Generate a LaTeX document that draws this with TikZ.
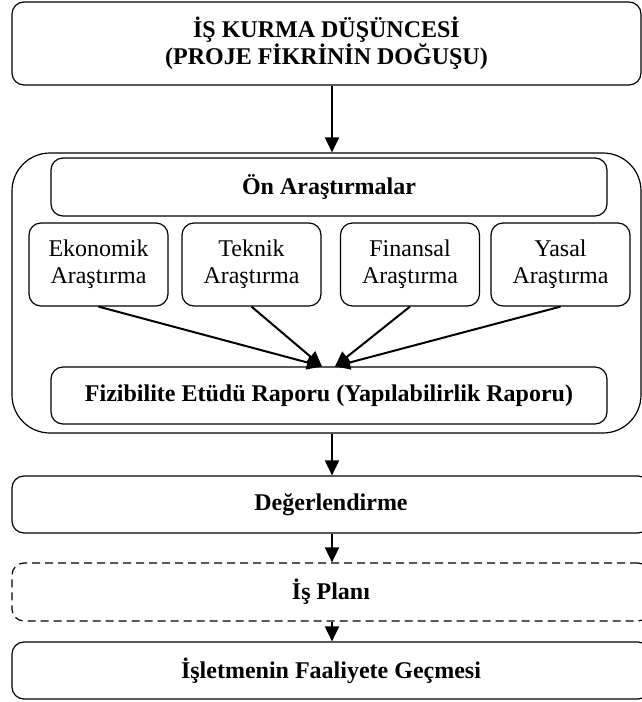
\documentclass[tikz,border=0pt]{standalone}
\usepackage{fontspec}
\setmainfont{Liberation Serif}
\usepackage{tikz}
\usetikzlibrary{arrows.meta}

\tikzset{
  kutu/.style={draw, line width=1.2pt, rounded corners=12pt, align=center,
    inner sep=0pt, font=\fontsize{24}{27}\selectfont},
  kalin/.style={kutu, font=\fontsize{24}{27}\selectfont\bfseries},
  ok/.style={line width=2pt, -{Triangle[length=15pt,width=14pt]}}
}

\begin{document}
\begin{tikzpicture}[x=1pt, y=-1pt]
\useasboundingbox (0,0) rectangle (642,702);

\node[kalin, minimum width=629pt, minimum height=83pt] (fikir) at (326.5,43.5)
  {İŞ KURMA DÜŞÜNCESİ\\(PROJE FİKRİNİN DOĞUŞU)};

\node[kutu, rounded corners=38pt, minimum width=629pt, minimum height=280pt] (cerceve) at (326.5,293) {};
\node[kalin, minimum width=556pt, minimum height=58pt] (on) at (329,187) {Ön Araştırmalar};

\node[kutu, minimum width=139pt, minimum height=83pt] (ekonomik) at (98.5,264.5) {Ekonomik\\Araştırma};
\node[kutu, minimum width=139pt, minimum height=83pt] (teknik) at (251.5,264.5) {Teknik\\Araştırma};
\node[kutu, minimum width=139pt, minimum height=83pt] (finansal) at (410,264.5) {Finansal\\Araştırma};
\node[kutu, minimum width=139pt, minimum height=83pt] (yasal) at (560.5,264.5) {Yasal\\Araştırma};

\node[kalin, minimum width=556pt, minimum height=57pt] (fizibilite) at (329,395.5)
  {Fizibilite Etüdü Raporu (Yapılabilirlik Raporu)};
\coordinate (solUc) at ([xshift=-7pt]fizibilite.north);
\coordinate (sagUc) at ([xshift=6pt]fizibilite.north);

\node[kalin, minimum width=638pt, minimum height=57pt] (deger) at (331,504.5) {Değerlendirme};
\node[kalin, dashed, dash pattern=on 8pt off 5pt, minimum width=638pt, minimum height=58pt] (plan) at (331,592) {İş Planı};
\node[kalin, minimum width=638pt, minimum height=57pt] (faaliyet) at (331,670.5) {İşletmenin Faaliyete Geçmesi};

% oklar
\draw[ok] ([xshift=5.5pt]fikir.south) -- ([xshift=5.5pt]cerceve.north);
\draw[ok] (ekonomik.south) -- (solUc);
\draw[ok] (teknik.south) -- (solUc);
\draw[ok] (finansal.south) -- (sagUc);
\draw[ok] (yasal.south) -- (sagUc);
\draw[ok] ([xshift=5.5pt]cerceve.south) -- ([xshift=1pt]deger.north);
\draw[ok] ([xshift=1pt]deger.south) -- ([xshift=1pt]plan.north);
\draw[ok] ([xshift=1pt]plan.south) -- ([xshift=1pt]faaliyet.north);

\end{tikzpicture}
\end{document}
